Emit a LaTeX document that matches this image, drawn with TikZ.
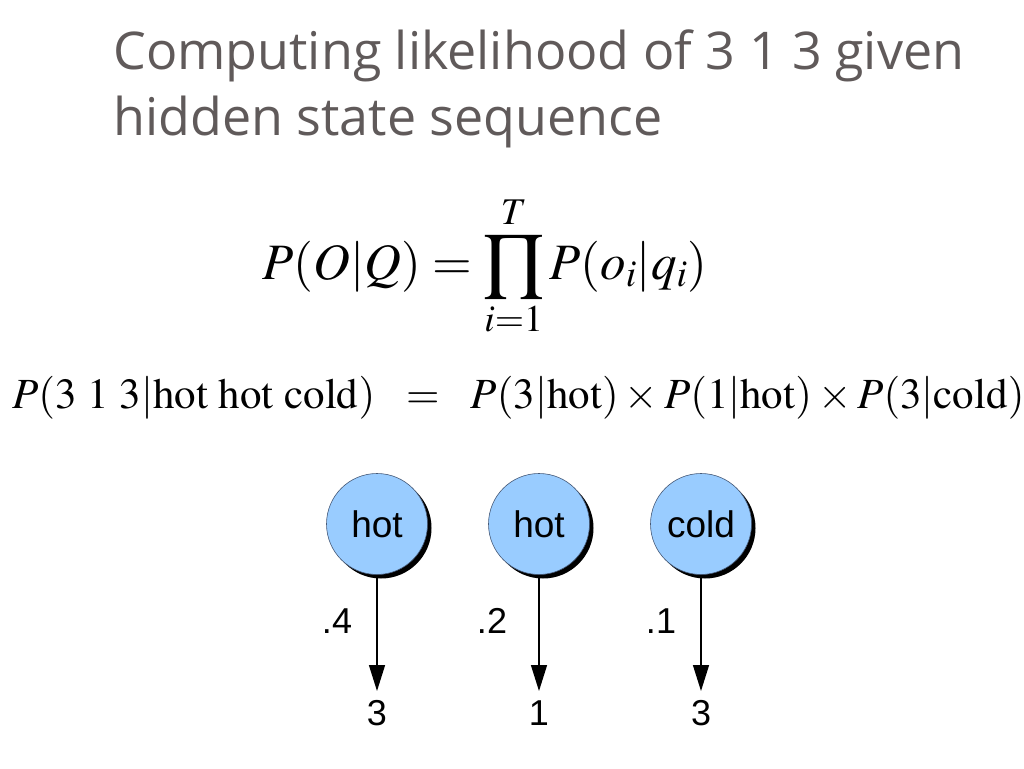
\documentclass[tikz,border=0pt]{standalone}
\usepackage{mathptmx}
\usepackage{fontspec}
\setmainfont{Liberation Serif}
\newfontfamily\titlefont{Open Sans}
\newfontfamily\arialfont{Liberation Sans}
\usetikzlibrary{arrows.meta}
\definecolor{titlegray}{RGB}{96,90,90}
\definecolor{stateblue}{RGB}{153,204,255}
\definecolor{stateedge}{RGB}{70,90,120}
\tikzset{
  titletext/.style={anchor=base west, inner sep=0pt, text=titlegray, font=\titlefont\fontsize{52}{56}\selectfont},
  state/.style={circle, minimum size=101pt, inner sep=0pt, fill=stateblue, draw=stateedge, line width=0.6pt, font=\arialfont\fontsize{37}{40}\selectfont},
  shadowdisk/.style={circle, minimum size=101pt, inner sep=0pt, fill=black},
  obs/.style={inner sep=0pt, font=\arialfont\fontsize{36}{40}\selectfont},
  problabel/.style={inner sep=0pt, font=\arialfont\fontsize{36}{40}\selectfont},
  emit/.style={draw=black, line width=1.4pt, -{Triangle[length=26pt,width=16pt]}}
}
\begin{document}
\begin{tikzpicture}[x=1pt,y=-1pt]
\useasboundingbox[fill=white] (0,0) rectangle (1024,768);
\node[titletext] (t1) at (113,70) {Computing likelihood of 3 1 3 given};
\node[titletext] (t2) at (113,135) {hidden state sequence};
\node[inner sep=0pt, anchor=center] (eq1) at (485,266) {\fontsize{51}{56}\selectfont$\displaystyle P(O|Q)=\prod_{i=1}^{T}P(o_i|q_i)$};
\node[inner sep=0pt, anchor=base west] (eq2) at (12,408) {\fontsize{43}{48}\selectfont$P(3\ 1\ 3|\mathrm{hot\ hot\ cold})\ \ =\ \ P(3|\mathrm{hot})\times P(1|\mathrm{hot})\times P(3|\mathrm{cold})$};
\foreach \n/\x in {a/377,b/539,c/701}{
  \node[shadowdisk] (sh\n) at (\x+4,528) {};
}
\node[state] (s1) at (377,524) {hot};
\node[state] (s2) at (539,524) {hot};
\node[state] (s3) at (701,524) {cold};
\coordinate (e1) at (377,691);
\coordinate (e2) at (539,691);
\coordinate (e3) at (701,691);
\draw[emit] (s1.south) -- (e1);
\draw[emit] (s2.south) -- (e2);
\draw[emit] (s3.south) -- (e3);
\node[obs] (o1) at (377,713) {3};
\node[obs] (o2) at (539,713) {1};
\node[obs] (o3) at (701,713) {3};
\node[problabel] (p1) at (337,621) {.4};
\node[problabel] (p2) at (492,621) {.2};
\node[problabel] (p3) at (661,621) {.1};
\end{tikzpicture}
\end{document}
